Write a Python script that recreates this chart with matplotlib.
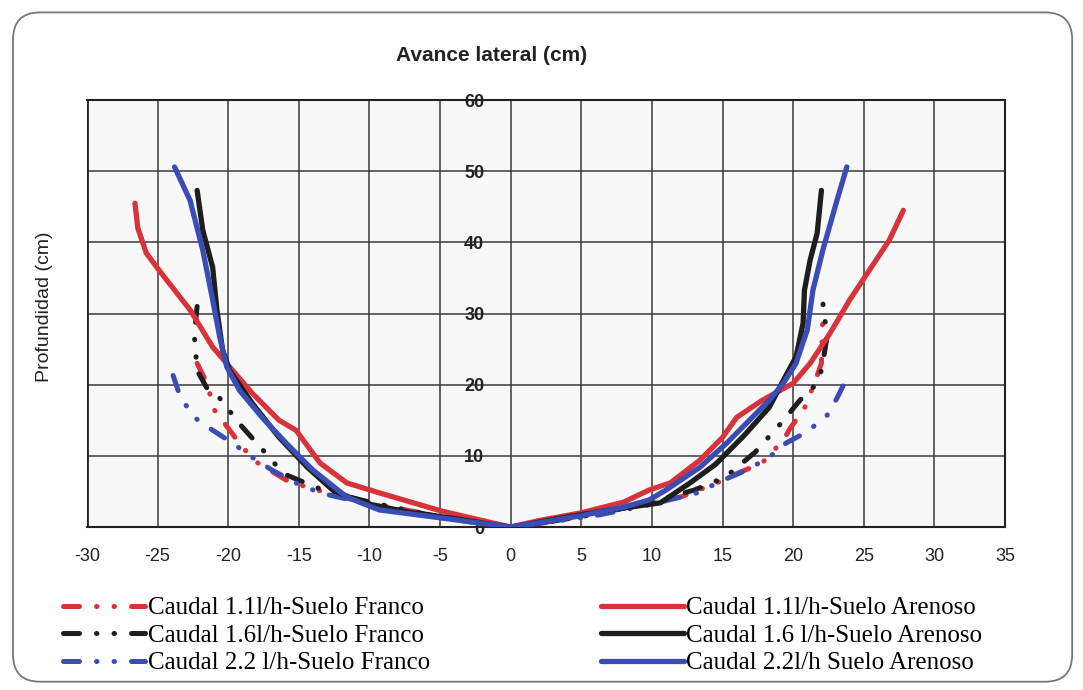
import matplotlib
matplotlib.use("Agg")
import matplotlib.pyplot as plt
from matplotlib.patches import FancyBboxPatch

plt.rcParams["axes.unicode_minus"] = False

# Suelo Arenoso (solid)
aren_11_x = [-26.6, -26.4, -25.8, -24.9, -22.7, -21.1, -19.9, -18.3, -16.4, -15.2, -13.5, -11.6, -9.3, -5, -2, 0,
             2, 5, 8, 9.8, 11.3, 13.4, 15, 16, 17.8, 20, 21.2, 22.6, 24, 25.4, 26.8, 27.8]
aren_11_y = [45.5, 42, 38.5, 36.1, 30.5, 25.3, 22.5, 18.8, 15, 13.6, 9, 6.2, 4.8, 2.3, 0.9, 0,
             0.9, 2, 3.5, 5.2, 6.2, 9.4, 12.6, 15.4, 17.8, 20.2, 23, 27.2, 31.9, 36.1, 40.3, 44.5]

aren_16_x = [-22.2, -21.8, -21.1, -20.8, -20.4, -19.9, -18.3, -16.4, -14.4, -12.6, -10.5, -7, -4, -1.5, 0,
             1.5, 4, 7, 10.6, 12.7, 14.5, 16.5, 18.3, 19.3, 20.2, 20.7, 20.8, 21.2, 21.7, 22]
aren_16_y = [47.3, 41.7, 36.5, 30.5, 24.9, 22, 17.4, 12.6, 8.4, 5.2, 3.4, 2, 1.2, 0.4, 0,
             0.5, 1.4, 2.4, 3.4, 6.2, 8.8, 12.8, 16.8, 20.6, 23.9, 28.6, 33.3, 37.5, 41.3, 47.3]

aren_22_x = [-23.8, -22.7, -21.8, -21.1, -20.6, -20.1, -19.2, -17.6, -15.9, -14, -11.6, -9.3, -5, -2, 0,
             2, 5, 8, 9.8, 11, 13.4, 15.3, 16.9, 18.3, 19.3, 20.2, 21, 21.4, 22.1, 23.1, 23.8]
aren_22_y = [50.6, 45.9, 38.9, 31.9, 26.7, 22.5, 19.2, 15.4, 11.8, 8, 4.2, 2.4, 1.3, 0.5, 0,
             0.6, 1.6, 2.8, 3.8, 5.2, 8.4, 11.8, 15, 17.8, 20.2, 23, 27.7, 33.3, 38.9, 45.9, 50.6]

# Suelo Franco (dashed)
fran_11_x = [-22.2, -21.5, -21, -20, -19, -17.9, -15.9, -14.4, -12, -9, -5, -2, 0,
             2, 5, 9, 12, 14.6, 16, 17.8, 19.3, 19.8, 20.8, 21.5, 22, 22.1]
fran_11_y = [23, 20.2, 16.5, 13.9, 11.2, 9, 6.6, 5.6, 4.2, 3, 1.5, 0.5, 0,
             0.5, 1.5, 3, 4.2, 6.2, 7.5, 9, 12.2, 13.9, 16.7, 20.2, 23, 30]

fran_16_x = [-22.2, -22.4, -22.2, -21.5, -20.6, -19.2, -17.4, -16.1, -13.3, -10, -6, -2, 0,
             2, 6, 10, 13, 15.2, 17.3, 19.1, 20.6, 21.5, 22, 22.4, 22.1]
fran_16_y = [31, 27, 22, 19.5, 18.1, 14.5, 10.5, 7.5, 5.2, 3.5, 1.8, 0.5, 0,
             0.5, 1.8, 3.5, 5.2, 7, 10.5, 14.5, 18.1, 19.8, 22, 26.7, 31.5]

fran_22_x = [-23.9, -23.4, -22.4, -21.1, -19.7, -18.3, -16.9, -15.2, -13.5, -10, -6, -2, 0,
             2, 6, 10, 13.4, 14.6, 16.7, 18.3, 19.5, 21, 22.4, 23.1, 23.9]
fran_22_y = [21.3, 18.3, 15.4, 13.6, 11.8, 9.8, 8, 6.2, 4.8, 3.2, 1.6, 0.5, 0,
             0.5, 1.6, 3.2, 4.9, 6.2, 8, 9.8, 11.8, 13.4, 15.7, 18.1, 21.3]

x_ticks = [-30, -25, -20, -15, -10, -5, 0, 5, 10, 15, 20, 25, 30, 35]
y_ticks = [0, 10, 20, 30, 40, 50, 60]

RED, BLACK, BLUE = "#d8333b", "#1e1e1e", "#3a4db5"
dash_pat = (0, (3.2, 3.4, 0.1, 3.4, 0.1, 3.4))

fig = plt.figure(figsize=(10.83, 6.9), dpi=100)
fig.patch.set_facecolor("white")
fig.patches.append(FancyBboxPatch((0.012, 0.012), 0.978, 0.97, boxstyle="round,pad=0,rounding_size=0.025",
                                  transform=fig.transFigure, facecolor="none", edgecolor="#777777",
                                  linewidth=1.3, mutation_aspect=1083 / 690))

ax = fig.add_axes([0.0803, 0.2362, 0.8477, 0.6188])
ax.set_facecolor("#f8f8f8")

franco = [(fran_11_x, fran_11_y, RED, "Caudal 1.1l/h-Suelo Franco"),
          (fran_16_x, fran_16_y, BLACK, "Caudal 1.6l/h-Suelo Franco"),
          (fran_22_x, fran_22_y, BLUE, "Caudal 2.2 l/h-Suelo Franco")]
arenoso = [(aren_11_x, aren_11_y, RED, "Caudal 1.1l/h-Suelo Arenoso"),
           (aren_16_x, aren_16_y, BLACK, "Caudal 1.6 l/h-Suelo Arenoso"),
           (aren_22_x, aren_22_y, BLUE, "Caudal 2.2l/h Suelo Arenoso")]

h_fran, h_aren = [], []
for xs, ys, c, lab in franco:
    ln, = ax.plot(xs, ys, color=c, lw=3.6, linestyle=dash_pat, dash_capstyle="round", label=lab, zorder=3)
    h_fran.append(ln)
for xs, ys, c, lab in arenoso:
    ln, = ax.plot(xs, ys, color=c, lw=3.8, solid_capstyle="round", solid_joinstyle="round",
                  label=lab, zorder=4)
    h_aren.append(ln)

ax.set_xlim(-30, 35)
ax.set_ylim(0, 60)
ax.set_xticks(x_ticks)
ax.set_yticks(y_ticks)
ax.grid(True, color="#3a3a3a", lw=1.1)
ax.set_axisbelow(True)

# y axis labels sit on the x=0 line
ax.spines["left"].set_position(("data", 0))
ax.spines["left"].set_visible(False)
for s in ["top", "right", "bottom"]:
    ax.spines[s].set_linewidth(1.5)
    ax.spines[s].set_color("#222222")
ax.axvline(-30, color="#222222", lw=2.0, zorder=2)

ax.tick_params(axis="both", length=0)
ax.tick_params(axis="x", pad=15, labelsize=13, labelcolor="#222222")
ax.tick_params(axis="y", pad=19, labelsize=13, labelcolor="#222222")
for t in ax.get_xticklabels() + ax.get_yticklabels():
    t.set_fontfamily("Liberation Sans")
for t in ax.get_yticklabels():
    t.set_fontweight("bold")

fig.text(0.454, 0.92, "Avance lateral (cm)", ha="center", va="center", fontsize=15,
         fontweight="bold", family="Liberation Sans", color="#222222")
fig.text(0.041, 0.555, "Profundidad (cm)", ha="center", va="center", rotation=90, fontsize=14,
         family="Liberation Sans", color="#222222")

leg_kw = dict(frameon=False, prop={"family": "Liberation Serif", "size": 18}, handlelength=3.3,
              handletextpad=0.1, labelspacing=0.2, borderaxespad=0, borderpad=0)
leg1 = fig.legend(handles=h_fran, loc="upper left", bbox_to_anchor=(0.058, 0.135), **leg_kw)
leg2 = fig.legend(handles=h_aren, loc="upper left", bbox_to_anchor=(0.555, 0.135), **leg_kw)

fig.savefig("out.png", dpi=100)
